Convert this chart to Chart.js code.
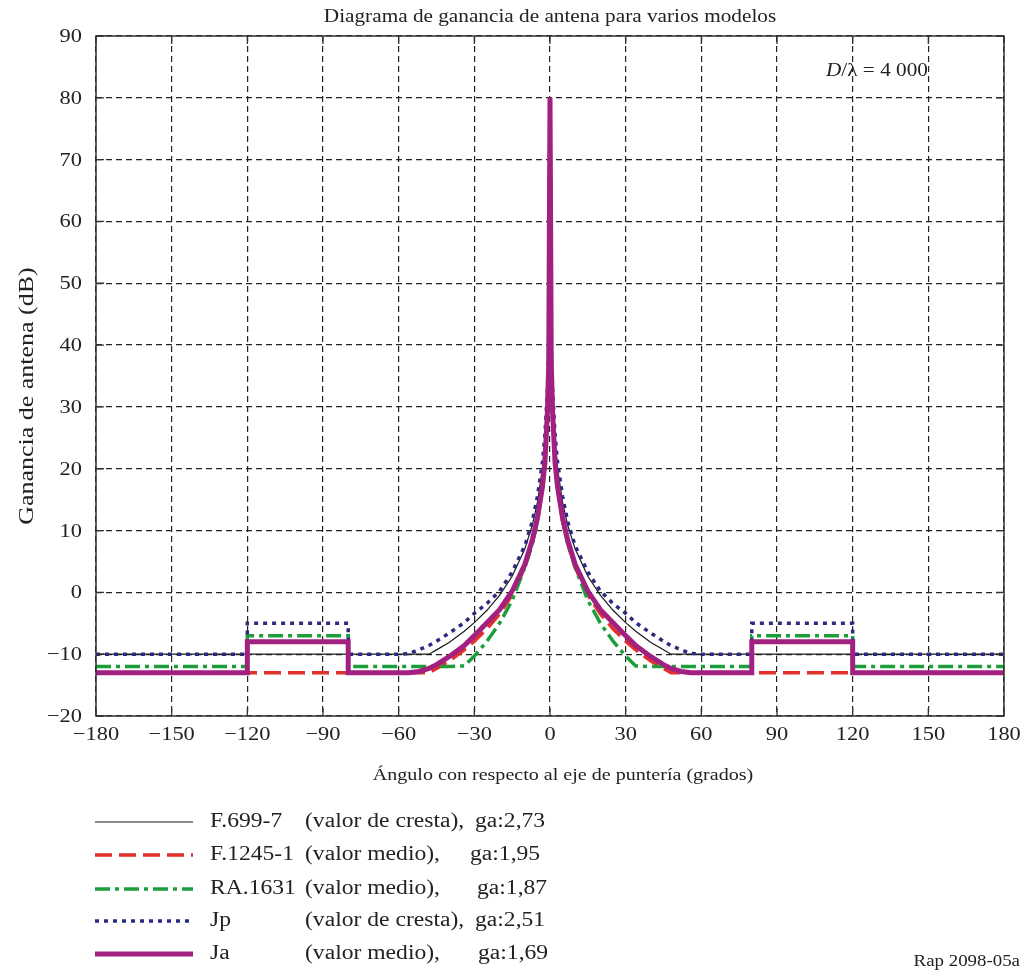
<!DOCTYPE html>
<html>
<head>
<meta charset="utf-8">
<script src="https://cdn.jsdelivr.net/npm/chart.js@4.4.1/dist/chart.umd.min.js"></script>
<style>
  html, body { margin: 0; padding: 0; background: #fff; }
  #wrap { width: 1027px; height: 972px; position: relative; }
</style>
</head>
<body>
<div id="wrap"><canvas id="gainChart"></canvas></div>
<script>
// angulos (grados) con respecto al eje de punteria
const angles = [-180, -120, -120, -80, -80, -60, -56, -52, -48, -45, -40, -34, -30, -25, -20, -15, -10, -7, -5, -3, -2, -1, -0.5,
  0,
  0.5, 1, 2, 3, 5, 7, 10, 15, 20, 25, 30, 34, 40, 45, 48, 52, 56, 60, 80, 80, 120, 120, 180];

// ganancias (dB)
const gainF699 = [-10, -10, -10, -10, -10, -10, -10, -10, -10, -9.3, -8.1, -6.3, -4.9, -2.9, -0.5, 2.6, 7, 10.9, 14.5, 20.1, 24.5, 32, 39.5,
  80,
  39.5, 32, 24.5, 20.1, 14.5, 10.9, 7, 2.6, -0.5, -2.9, -4.9, -6.3, -8.1, -9.3, -10, -10, -10, -10, -10, -10, -10, -10, -10];
const gainF1245 = [-13, -13, -13, -13, -13, -13, -13, -13, -13, -12.3, -11.1, -9.3, -7.9, -5.9, -3.5, -0.4, 4, 7.9, 11.5, 17.1, 21.5, 29, 36.5,
  80,
  36.5, 29, 21.5, 17.1, 11.5, 7.9, 4, -0.4, -3.5, -5.9, -7.9, -9.3, -11.1, -12.3, -13, -13, -13, -13, -13, -13, -13, -13, -13];
const gainRA1631 = [-12, -12, -7, -7, -12, -12, -12, -12, -12, -12, -12, -11.9, -10.3, -7.9, -5, -1.3, 4, 7.9, 11.5, 17.1, 21.5, 29, 36.5,
  80,
  36.5, 29, 21.5, 17.1, 11.5, 7.9, 4, -1.3, -5, -7.9, -10.3, -11.9, -12, -12, -12, -12, -12, -12, -12, -7, -7, -12, -12];
const gainJp = [-10, -10, -5, -5, -10, -10, -9.9, -9.3, -8.6, -7.9, -6.6, -4.9, -3.4, -1.8, 0.2, 3.3, 7.5, 11.5, 15.5, 21, 25.5, 33, 40,
  80,
  40, 33, 25.5, 21, 15.5, 11.5, 7.5, 3.3, 0.2, -1.8, -3.4, -4.9, -6.6, -7.9, -8.6, -9.3, -9.9, -10, -10, -5, -5, -10, -10];
const gainJa = [-13, -13, -8, -8, -13, -13, -13, -12.8, -12.3, -11.7, -10.4, -8.6, -7, -4.9, -2.8, 0.2, 4.5, 8.5, 12, 17, 21, 29.5, 37,
  80,
  37, 29.5, 21, 17, 12, 8.5, 4.5, 0.2, -2.8, -4.9, -7, -8.6, -10.4, -11.7, -12.3, -12.8, -13, -13, -13, -8, -8, -13, -13];

const seriesNames = ['F.699-7', 'F.1245-1', 'RA.1631', 'Jp', 'Ja'];
const seriesNotes = ['(valor de cresta),', '(valor medio),', '(valor medio),', '(valor de cresta),', '(valor medio),'];
const seriesGa = ['ga:2,73', 'ga:1,95', 'ga:1,87', 'ga:2,51', 'ga:1,69'];
const seriesGains = [gainF699, gainF1245, gainRA1631, gainJp, gainJa];

const chartTitle = 'Diagrama de ganancia de antena para varios modelos';
const xTitle = 'Ángulo con respecto al eje de puntería (grados)';
const yTitle = 'Ganancia de antena (dB)';
const noteText = '/λ = 4 000';
const figRef = 'Rap 2098-05a';

const SERIF = "'Liberation Serif', 'Times New Roman', serif";
const SX = 1.18; // el texto del original es algo mas ancho

const styles = [
  { color: '#1a1a1a', width: 1.2, dash: [], order: 4 },
  { color: '#e2302a', width: 3.5, dash: [17, 7], order: 3 },
  { color: '#1e9e3a', width: 3.5, dash: [15, 5, 4, 5], order: 2 },
  { color: '#2b2a7e', width: 3.5, dash: [4, 5], order: 1 },
  { color: '#a2207f', width: 5, dash: [], order: 0 }
];

function minus(v) {
  return v < 0 ? '\u2212' + Math.abs(v) : String(v);
}

// texto ensanchado horizontalmente
function wideText(ctx, text, x, y, align, sx) {
  const w = ctx.measureText(text).width * sx;
  const left = align === 'center' ? x - w / 2 : (align === 'right' ? x - w : x);
  ctx.save();
  ctx.translate(left, y);
  ctx.scale(sx, 1);
  ctx.textAlign = 'left';
  ctx.fillText(text, 0, 0);
  ctx.restore();
  return w;
}

const datasets = seriesNames.map((name, i) => ({
  label: name,
  data: angles.map((a, j) => ({ x: a, y: seriesGains[i][j] })),
  borderColor: styles[i].color,
  borderWidth: styles[i].width,
  borderDash: styles[i].dash,
  borderJoinStyle: 'miter',
  borderCapStyle: 'butt',
  pointRadius: 0,
  tension: 0,
  fill: false,
  order: styles[i].order
}));

// marco, marcas interiores, textos y leyenda
const decorPlugin = {
  id: 'decor',
  afterDatasetsDraw(chart) {
    const ctx = chart.ctx;
    const area = chart.chartArea;
    const xs = chart.scales.x, ys = chart.scales.y;
    ctx.save();
    ctx.strokeStyle = '#333';
    ctx.lineWidth = 1.5;
    ctx.setLineDash([]);
    ctx.strokeRect(area.left, area.top, area.right - area.left, area.bottom - area.top);
    ctx.lineWidth = 1.3;
    ctx.beginPath();
    xs.ticks.forEach(t => {
      const px = xs.getPixelForValue(t.value);
      ctx.moveTo(px, area.bottom); ctx.lineTo(px, area.bottom - 8);
      ctx.moveTo(px, area.top); ctx.lineTo(px, area.top + 8);
    });
    ys.ticks.forEach(t => {
      const py = ys.getPixelForValue(t.value);
      ctx.moveTo(area.left, py); ctx.lineTo(area.left + 8, py);
      ctx.moveTo(area.right, py); ctx.lineTo(area.right - 8, py);
    });
    ctx.stroke();

    ctx.fillStyle = '#222';
    ctx.textBaseline = 'middle';

    // etiquetas de los ejes
    ctx.font = '19px ' + SERIF;
    xs.ticks.forEach(t => {
      wideText(ctx, minus(t.value), xs.getPixelForValue(t.value), area.bottom + 19, 'center', SX);
    });
    ys.ticks.forEach(t => {
      wideText(ctx, minus(t.value), area.left - 14, ys.getPixelForValue(t.value) + 1, 'right', SX);
    });

    ctx.font = '18px ' + SERIF;
    wideText(ctx, chartTitle, 550, 17, 'center', SX);
    ctx.font = '17px ' + SERIF;
    wideText(ctx, xTitle, 563, 776, 'center', SX);
    ctx.save();
    ctx.translate(27, 396);
    ctx.rotate(-Math.PI / 2);
    ctx.font = '22px ' + SERIF;
    wideText(ctx, yTitle, 0, 0, 'center', SX);
    ctx.restore();

    // D/lambda
    ctx.font = 'italic 18px ' + SERIF;
    const dw = wideText(ctx, 'D', 826, 71, 'left', SX);
    ctx.font = '18px ' + SERIF;
    wideText(ctx, noteText, 826 + dw, 71, 'left', SX);

    // leyenda
    const rows = [822, 855, 889, 921, 954];
    const gaX = [475, 470, 477, 475, 478];
    chart.data.datasets.forEach((ds, i) => {
      const y = rows[i];
      ctx.strokeStyle = ds.borderColor;
      ctx.lineWidth = ds.borderWidth;
      ctx.setLineDash(ds.borderDash);
      ctx.lineCap = 'butt';
      ctx.beginPath();
      ctx.moveTo(95, y); ctx.lineTo(193, y);
      ctx.stroke();
      ctx.setLineDash([]);
      ctx.fillStyle = '#222';
      ctx.font = '20px ' + SERIF;
      wideText(ctx, ds.label, 210, y, 'left', SX);
      wideText(ctx, seriesNotes[i], 305, y, 'left', SX);
      wideText(ctx, seriesGa[i], gaX[i], y, 'left', SX);
    });

    ctx.font = '16px ' + SERIF;
    wideText(ctx, figRef, 1020, 962, 'right', SX);
    ctx.restore();
  }
};

const bgPlugin = {
  id: 'bg',
  beforeDraw(chart) {
    const ctx = chart.ctx;
    ctx.save();
    ctx.fillStyle = '#fff';
    ctx.fillRect(0, 0, chart.width, chart.height);
    ctx.restore();
  }
};

new Chart(document.getElementById('gainChart'), {
  type: 'line',
  data: { datasets: datasets },
  options: {
    responsive: true,
    maintainAspectRatio: false,
    animation: false,
    layout: { padding: { left: 0, top: 36, right: 23, bottom: 216 } },
    plugins: {
      legend: { display: false },
      tooltip: { enabled: false },
      title: { display: false }
    },
    scales: {
      x: {
        type: 'linear',
        min: -180,
        max: 180,
        afterFit(scale) { scale.height = 40; },
        ticks: {
          stepSize: 30,
          padding: 8,
          color: 'rgba(0,0,0,0)',
          font: { family: SERIF, size: 19 },
          maxRotation: 0,
          callback: v => minus(v)
        },
        grid: { color: '#222', lineWidth: 1.2, drawTicks: false },
        border: { display: false, dash: [6, 4] }
      },
      y: {
        min: -20,
        max: 90,
        afterFit(scale) { scale.width = 96; },
        ticks: {
          stepSize: 10,
          padding: 14,
          color: 'rgba(0,0,0,0)',
          font: { family: SERIF, size: 19 },
          callback: v => minus(v)
        },
        grid: { color: '#222', lineWidth: 1.2, drawTicks: false },
        border: { display: false, dash: [6, 4] }
      }
    }
  },
  plugins: [bgPlugin, decorPlugin]
});
</script>
</body>
</html>
